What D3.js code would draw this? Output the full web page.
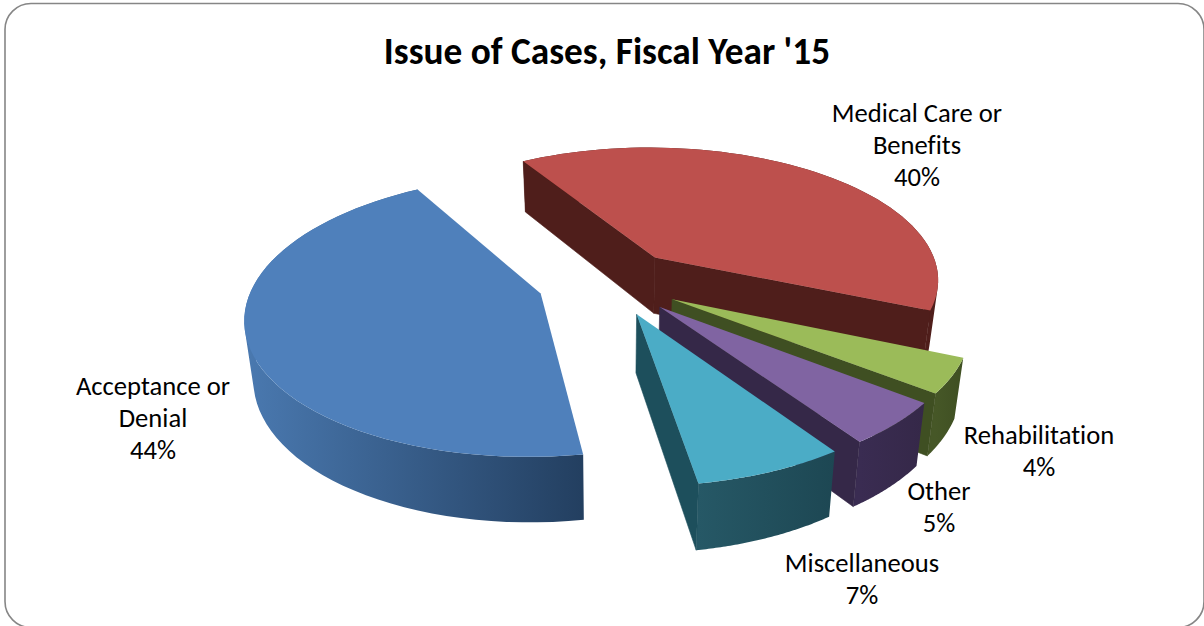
<!DOCTYPE html>
<html><head><meta charset="utf-8">
<script src="https://cdn.jsdelivr.net/npm/d3@7"></script>
<style>html,body{margin:0;padding:0;background:#fff;overflow:hidden}svg{display:block}text{font-family:Carlito,Lato,"Open Sans",sans-serif;fill:#000;font-variant-ligatures:none}</style>
</head><body><svg id="c" width="1204" height="626"></svg>
<script>
const titleText = "Issue of Cases, Fiscal Year '15";
const categories = ["Acceptance or Denial","Medical Care or Benefits","Rehabilitation","Other","Miscellaneous"];
const values = [44,40,4,5,7];
const labelLines = [["Acceptance or","Denial"],["Medical Care or","Benefits"],["Rehabilitation"],["Other"],["Miscellaneous"]];
const topColors = ["#4f80bb","#bd504d","#9bbb59","#8064a2","#4bacc6"];
const wallLight = ["#4a79b0","#4f1e1b","#465727","#3a2c52","#265866"];
const wallDark  = ["#233f60","#4f1e1b","#3f4f22","#352848","#1d4753"];
const radialColors = ["#233f60","#4f1e1b","#3f4f22","#352848","#1d4f5c"];
const labelAnchors = [[153,395],[917,122],[1039,444],[939,500],[862,572]];

const svg=d3.select("#c");
const CX=609,CY=282,RX=287,RY=134,K=0.155,KD=0.12,DEPTH=57,EXPLODE=0.25,SHRINK=0.025;
const startDeg=170.8;
const pie=d3.pie().sort(null).startAngle(startDeg*Math.PI/180).endAngle((startDeg+360)*Math.PI/180);
const arcs=pie(values);

function proj(x,y,z){const w=1+K*y,s=1-SHRINK*z;return [CX+RX*x/w*s, CY-RY*y/w+DEPTH*z/(1+KD*y)];}
function pt(d,th,r,z){
  const m=(d.startAngle+d.endAngle)/2;
  const x=EXPLODE*Math.sin(m)+r*Math.sin(th), y=EXPLODE*Math.cos(m)+r*Math.cos(th);
  return proj(x,y,z);
}
const line=d3.line();
const defs=svg.append("defs");

svg.append("rect").attr("x",5).attr("y",3.5).attr("width",1199).attr("height",624).attr("rx",26)
  .attr("fill","#fff").attr("stroke","#868686").attr("stroke-width",1.6);

svg.append("text").attr("x",607).attr("y",64).attr("text-anchor","middle")
  .attr("font-size",37.3).attr("font-weight",700).text(titleText);

values.forEach((v,i)=>{
  const d=arcs[i];
  const ths=d3.range(0,61).map(j=>d.startAngle+(d.endAngle-d.startAngle)*j/60);
  const topArc=ths.map(t=>pt(d,t,1,0));
  const botArc=ths.map(t=>pt(d,t,1,1));
  const g=svg.append("g").attr("class","slice");
  const ex=d3.extent(topArc,p=>p[0]);
  const gid="wall"+i;
  const lg=defs.append("linearGradient").attr("id",gid).attr("gradientUnits","userSpaceOnUse")
    .attr("x1",ex[0]).attr("x2",ex[1]).attr("y1",0).attr("y2",0);
  lg.append("stop").attr("offset","0").attr("stop-color",wallLight[i]);
  lg.append("stop").attr("offset","1").attr("stop-color",wallDark[i]);
  // one path of equally wound strips, so the wall has neither seams nor holes
  const strips=d3.range(60).map(j=>{
    const q=[topArc[j],topArc[j+1],botArc[j+1],botArc[j]];
    return line(d3.polygonArea(q)<0?q.reverse():q)+"Z";
  }).join("");
  g.append("path").attr("fill",`url(#${gid})`).attr("fill-rule","nonzero").attr("d",strips);
  // a cut face is drawn only when it turns toward the viewer
  [[d.startAngle,-Math.PI/2],[d.endAngle,Math.PI/2]].forEach(([t,turn])=>{
    if(Math.cos(t+turn)>=0) return;
    g.append("path").attr("fill",radialColors[i]).attr("stroke",radialColors[i]).attr("stroke-width",0.6)
     .attr("d",line([pt(d,t,0,0),pt(d,t,1,0),pt(d,t,1,1),pt(d,t,0,1)])+"Z");
  });
  g.append("path").attr("fill",topColors[i])
   .attr("d",line([pt(d,0,0,0)].concat(topArc))+"Z");
});

categories.forEach((c,i)=>{
  const pct=d3.format(".0%")(values[i]/d3.sum(values));
  const lines=labelLines[i].concat([pct]);
  const t=svg.append("text").attr("text-anchor","middle").attr("font-size",26.6);
  lines.forEach((s,j)=>t.append("tspan").attr("x",labelAnchors[i][0]).attr("y",labelAnchors[i][1]+j*32).text(s));
});
</script></body></html>
